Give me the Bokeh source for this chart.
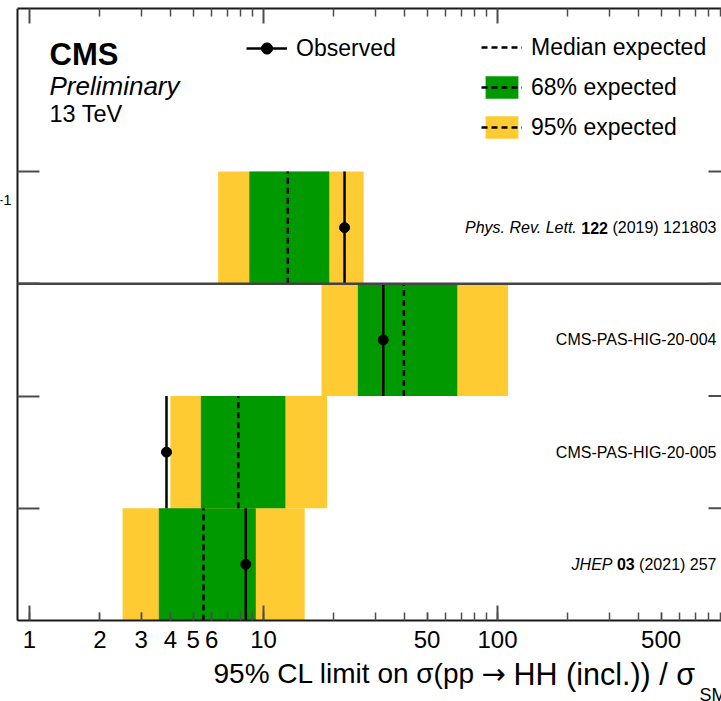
from bokeh.plotting import figure
from bokeh.models import (Range1d, LogAxis, LinearAxis, FixedTicker, Label,
                          Legend, LegendItem)
from bokeh.embed import file_html
from bokeh.resources import INLINE

# ---------------- data ----------------
analyses = ["Phys. Rev. Lett. 122 (2019) 121803", "CMS-PAS-HIG-20-004",
            "CMS-PAS-HIG-20-005", "JHEP 03 (2021) 257"]
exp95_lo = [6.4, 17.7, 4.0, 2.5]
exp68_lo = [8.7, 25.3, 5.4, 3.57]
exp_median = [12.7, 39.8, 7.8, 5.54]
exp68_hi = [19.1, 67.3, 12.4, 9.27]
exp95_hi = [26.8, 111.0, 18.7, 15.0]
observed = [22.2, 32.5, 3.85, 8.4]

x_decades = [1, 10, 100, 1000]
x_label_ticks = [1, 2, 3, 4, 5, 6, 10, 50, 100, 500]
x_label_texts = ["1", "2", "3", "4", "5", "6", "10", "50", "100", "500"]
x_minor = [2, 3, 4, 5, 6, 7, 8, 9, 20, 30, 40, 50, 60, 70, 80, 90,
           200, 300, 400, 500, 600, 700, 800, 900]

# ---------------- layout ----------------
n = len(analyses)
row_lo = [n - 1 - i for i in range(n)]
row_hi = [r + 1 for r in row_lo]
row_mid = [r + 0.5 for r in row_lo]

FONT = "Liberation Sans"
YELLOW = "#fecb32"
GREEN = "#009a00"
AX = "#1a1a1a"
TICK = "#4d4d4d"

W, H = 721, 701
TOP = 8                       # frame top (canvas px)
ROW_PX = 112.25               # pixels per row
DEC_PX = 234.0                # pixels per decade
X_AT_0 = 10 ** (-29 / DEC_PX)          # value at the canvas left edge
X_FRAME_L = 10 ** (-12 / DEC_PX)       # value at the drawn frame's left edge
XR = (X_AT_0, X_AT_0 * 10 ** (W / DEC_PX))
YR = (-(H - 620) / ROW_PX, (620 - TOP) / ROW_PX)

p = figure(width=W, height=H, x_axis_type="log",
           x_range=Range1d(*XR), y_range=Range1d(*YR),
           x_axis_location=None, y_axis_location=None,
           output_backend="svg", toolbar_location=None,
           min_border_left=0, min_border_right=0,
           min_border_top=TOP, min_border_bottom=0)
p.outline_line_color = None
p.grid.grid_line_color = None
p.background_fill_color = "white"
p.border_fill_color = "white"

# bands
b95 = p.quad(left=exp95_lo, right=exp95_hi, bottom=row_lo, top=row_hi,
             fill_color=YELLOW, line_color=None)
b68 = p.quad(left=exp68_lo, right=exp68_hi, bottom=row_lo, top=row_hi,
             fill_color=GREEN, line_color=None)
med = p.segment(x0=exp_median, x1=exp_median, y0=row_lo, y1=row_hi,
                line_color="black", line_width=2.5, line_dash="6 4")
obs_l = p.segment(x0=observed, x1=observed, y0=row_lo, y1=row_hi,
                  line_color="black", line_width=2.5)
obs_d = p.scatter(x=observed, y=row_mid, size=10, marker="circle",
                  fill_color="black", line_color="black")

# separator between the first result and the others
p.segment(x0=[X_FRAME_L], x1=[XR[1]], y0=[row_hi[1]], y1=[row_hi[1]],
          line_color="#444444", line_width=2.5)

HIDDEN = dict(major_label_text_font_size="1px", major_label_text_alpha=0,
              major_label_standoff=0)

# axes
xb = LogAxis(ticker=FixedTicker(ticks=x_label_ticks, minor_ticks=x_minor),
             major_label_overrides={t: s for t, s in zip(x_label_ticks, x_label_texts)},
             fixed_location=0, bounds=(X_FRAME_L, XR[1]),
             major_tick_in=8, major_tick_out=0, minor_tick_in=8, minor_tick_out=0,
             axis_line_color=AX, axis_line_width=2,
             major_tick_line_color=TICK, major_tick_line_width=1.5,
             minor_tick_line_color=TICK, minor_tick_line_width=1.5,
             major_label_text_font=FONT, major_label_text_font_size="24px",
             major_label_text_color="black", major_label_standoff=10)
p.add_layout(xb, "below")

xt = LogAxis(ticker=FixedTicker(ticks=x_decades, minor_ticks=x_minor),
             bounds=(X_FRAME_L, XR[1]),
             major_tick_in=15, major_tick_out=0, minor_tick_in=8, minor_tick_out=0,
             axis_line_color=AX, axis_line_width=2,
             major_tick_line_color=TICK, major_tick_line_width=2,
             minor_tick_line_color=TICK, minor_tick_line_width=1.5, **HIDDEN)
p.add_layout(xt, "above")

yl = LinearAxis(ticker=FixedTicker(ticks=row_hi, minor_ticks=[]),
                fixed_location=X_FRAME_L, bounds=(0, YR[1]),
                major_tick_in=22, major_tick_out=0, minor_tick_in=0, minor_tick_out=0,
                axis_line_color=AX, axis_line_width=2,
                major_tick_line_color=TICK, major_tick_line_width=2, **HIDDEN)
p.add_layout(yl, "left")

# long decade ticks on the bottom axis and mirrored ticks on the right edge
dy = 15 / ROW_PX
p.segment(x0=x_decades, x1=x_decades, y0=[0] * 4, y1=[dy] * 4,
          line_color=TICK, line_width=2)
xr0 = XR[1] / 10 ** (13 / DEC_PX)
p.segment(x0=[xr0] * n, x1=[XR[1]] * n, y0=row_hi, y1=row_hi,
          line_color=TICK, line_width=2)

# legends (location = bottom-left corner, px from the frame's bottom-left)
common = dict(padding=0, margin=0, border_line_alpha=0, background_fill_alpha=0,
              label_text_font=FONT, label_text_font_size="23px",
              label_text_color="black", glyph_width=41, glyph_height=28,
              label_standoff=9, spacing=12)
leg1 = Legend(items=[LegendItem(label="Observed", renderers=[obs_l, obs_d])],
              location=(246, H - 62), **common)
leg2 = Legend(items=[LegendItem(label="Median expected", renderers=[med]),
                     LegendItem(label="68% expected", renderers=[b68, med]),
                     LegendItem(label="95% expected", renderers=[b95, med])],
              location=(481, H - 141), **common)
p.add_layout(leg1)
p.add_layout(leg2)

# texts: x in canvas px, y = vertical centre in canvas px (from top)
def lab(text, x, y, size, style="normal", align="left", y_data=None, font=FONT):
    p.add_layout(Label(text=text, x=x, y=(H - y) if y_data is None else y_data,
                       x_units="screen", y_units="screen" if y_data is None else "data",
                       text_font=font, text_font_size=size, text_font_style=style,
                       text_align=align, text_baseline="middle", text_color="black"))

lab("CMS", 49, 54, "31px", "bold")
lab("Preliminary", 49, 85, "26px", "italic")
lab("13 TeV", 49, 113, "23.5px")
lab("-1", 11, 199, "15px", align="right")

# x-axis title (pieces so that the arrow and subscript look like the original)
lab("95% CL limit on σ(pp", 213, 673, "28px")
lab("→", 481, 673, "29px", font="DejaVu Sans")
lab("HH (incl.)) / σ", 513, 673, "30.5px")
lab("SM", 699, 694, "18px")

# analysis references
lab("(2019) 121803", 716, 0, "16px", align="right", y_data=row_mid[0])
lab("122", 607.5, 0, "16px", "bold", align="right", y_data=row_mid[0])
lab("Phys. Rev. Lett.", 576.3, 0, "16px", "italic", align="right", y_data=row_mid[0])
lab(analyses[1], 716, 0, "16px", align="right", y_data=row_mid[1])
lab(analyses[2], 716, 0, "16px", align="right", y_data=row_mid[2])
lab("(2021) 257", 716, 0, "16px", align="right", y_data=row_mid[3])
lab("03", 634.2, 0, "16px", "bold", align="right", y_data=row_mid[3])
lab("JHEP", 612, 0, "16px", "italic", align="right", y_data=row_mid[3])

open("out.html", "w").write(file_html(p, INLINE))
